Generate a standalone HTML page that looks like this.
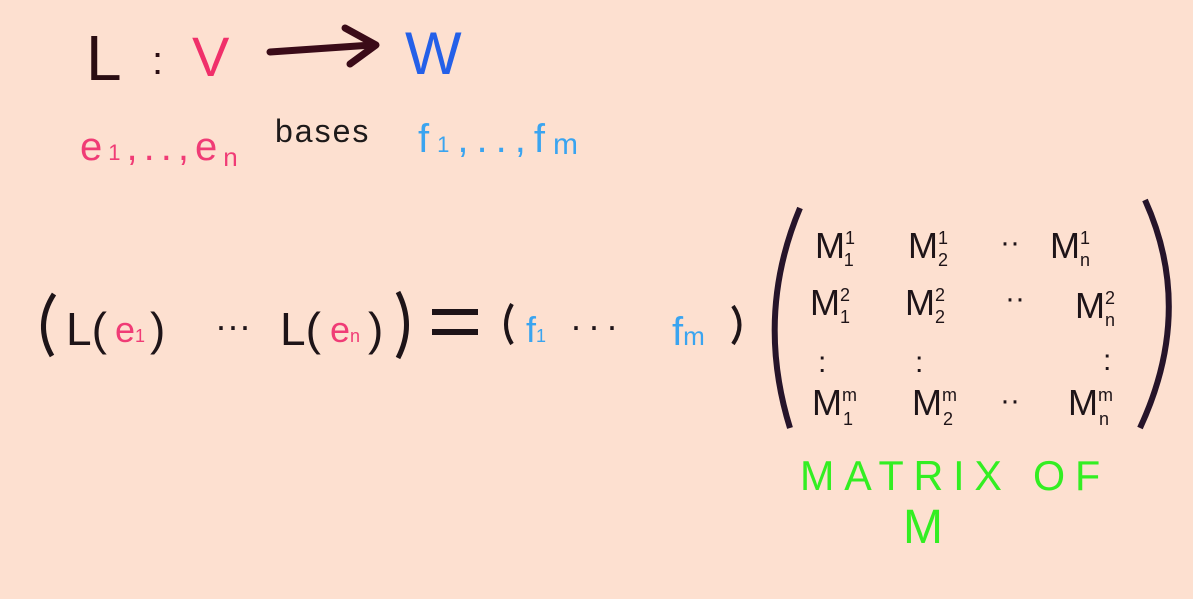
<!DOCTYPE html>
<html><head><meta charset="utf-8"><style>
html,body{margin:0;padding:0;background:#fde0d0;}
svg{display:block}
text{font-family:"Liberation Sans",sans-serif;}
</style></head><body>
<svg width="1193" height="599" viewBox="0 0 1193 599">
<rect width="1193" height="599" fill="#fde0d0"/>
<text x="86" y="80" font-size="64" fill="#2a0d12">L</text>
<text x="152" y="74" font-size="40" fill="#2a0d12">:</text>
<text x="192" y="76" font-size="56" fill="#f0306a">V</text>
<path d="M270 52 L372 45" stroke="#3a0b18" stroke-width="7" fill="none" stroke-linecap="round"/>
<path d="M345 28 L376 45 L350 64" stroke="#3a0b18" stroke-width="7" fill="none" stroke-linecap="round" stroke-linejoin="round"/>
<text x="405" y="74" font-size="60" fill="#2460e8">W</text>
<text x="80" y="160" font-size="40" fill="#f03c76" letter-spacing="6">e<tspan font-size="22">1</tspan>,..,e<tspan font-size="26" dy="6">n</tspan></text>
<text x="275" y="142" font-size="32" fill="#1e1a1a" letter-spacing="2">bases</text>
<text x="418" y="152" font-size="40" fill="#3aa4f0" letter-spacing="8">f<tspan font-size="22">1</tspan>,..,f<tspan font-size="30" dy="2">m</tspan></text>
<path d="M54 294 Q34 325 52 356" stroke="#1e1418" stroke-width="5" fill="none"/>
<text x="66" y="345" font-size="46" fill="#1e1418">L(</text>
<text x="115" y="342" font-size="36" fill="#f03c76">e<tspan font-size="18">1</tspan></text>
<text x="150" y="345" font-size="46" fill="#1e1418">)</text>
<text x="215" y="338" font-size="36" fill="#1e1418">···</text>
<text x="280" y="345" font-size="46" fill="#1e1418">L(</text>
<text x="330" y="342" font-size="36" fill="#f03c76">e<tspan font-size="18">n</tspan></text>
<text x="368" y="345" font-size="46" fill="#1e1418">)</text>
<path d="M398 292 Q415 325 398 358" stroke="#1e1418" stroke-width="5" fill="none"/>
<path d="M432 312 H478 M432 332 H478" stroke="#1e1418" stroke-width="6"/>
<path d="M512 304 Q500 325 512 344" stroke="#1e1418" stroke-width="4" fill="none"/>
<text x="526" y="342" font-size="36" fill="#3aa4f0">f<tspan font-size="18">1</tspan></text>
<text x="570" y="338" font-size="36" fill="#1e1418" letter-spacing="6">···</text>
<text x="672" y="345" font-size="40" fill="#3aa4f0">f<tspan font-size="26">m</tspan></text>
<path d="M733 306 Q746 325 733 344" stroke="#1e1418" stroke-width="4" fill="none"/>
<path d="M800 208 Q755 315 790 428" stroke="#26142a" stroke-width="6" fill="none"/>
<path d="M1145 200 Q1195 310 1140 428" stroke="#26142a" stroke-width="6" fill="none"/>
<g fill="#1e1418" font-size="36">
<text x="815" y="258">M<tspan font-size="18" dy="-14">1</tspan><tspan font-size="18" dx="-10" dy="22">1</tspan></text>
<text x="908" y="258">M<tspan font-size="18" dy="-14">1</tspan><tspan font-size="18" dx="-10" dy="22">2</tspan></text>
<text x="1000" y="252" font-size="30">··</text>
<text x="1050" y="258">M<tspan font-size="18" dy="-14">1</tspan><tspan font-size="18" dx="-10" dy="22">n</tspan></text>
<text x="810" y="315">M<tspan font-size="18" dy="-14">2</tspan><tspan font-size="18" dx="-10" dy="22">1</tspan></text>
<text x="905" y="315">M<tspan font-size="18" dy="-14">2</tspan><tspan font-size="18" dx="-10" dy="22">2</tspan></text>
<text x="1005" y="308" font-size="30">··</text>
<text x="1075" y="318">M<tspan font-size="18" dy="-14">2</tspan><tspan font-size="18" dx="-10" dy="22">n</tspan></text>
<text x="818" y="372" font-size="30">:</text>
<text x="915" y="372" font-size="30">:</text>
<text x="1103" y="370" font-size="30">:</text>
<text x="812" y="415">M<tspan font-size="18" dy="-14">m</tspan><tspan font-size="18" dx="-14" dy="24">1</tspan></text>
<text x="912" y="415">M<tspan font-size="18" dy="-14">m</tspan><tspan font-size="18" dx="-14" dy="24">2</tspan></text>
<text x="1000" y="410" font-size="30">··</text>
<text x="1068" y="415">M<tspan font-size="18" dy="-14">m</tspan><tspan font-size="18" dx="-14" dy="24">n</tspan></text>
</g>
<text x="800" y="490" font-size="42" fill="#33ee22" letter-spacing="10" textLength="310" lengthAdjust="spacingAndGlyphs">MATRIX OF</text>
<text x="903" y="543" font-size="48" fill="#33ee22">M</text>
</svg>
</body></html>
